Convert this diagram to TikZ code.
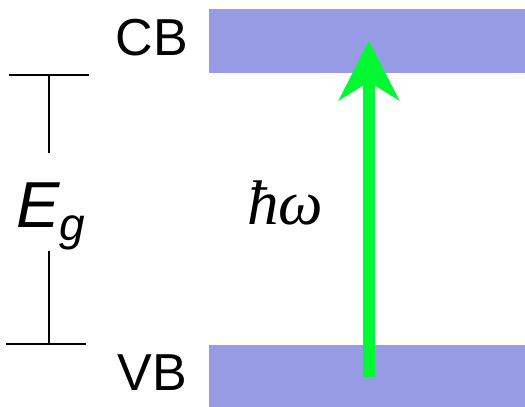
\documentclass[tikz,border=0pt]{standalone}
\usepackage{fontspec}
\newfontfamily\arialf{Liberation Sans}
\newfontfamily\timesf{Liberation Serif}
\usetikzlibrary{arrows.meta}
\definecolor{bandblue}{RGB}{151,155,230}
\definecolor{photongreen}{RGB}{0,249,50}
\tikzset{
  band/.style={rectangle, fill=bandblue, draw=none, minimum width=316pt, inner sep=0pt},
  bandlabel/.style={font=\arialf\fontsize{52}{52}\selectfont, inner sep=0pt, anchor=base},
  gapline/.style={line width=2pt, black},
  photon/.style={line width=12pt, photongreen, -{Stealth[length=59pt,width=60pt,inset=18pt]}}
}
\begin{document}
\begin{tikzpicture}[x=1pt,y=-1pt]
\useasboundingbox (0,0) rectangle (525,407);
\node[band, minimum height=64pt] (cb) at (367,41) {};
\node[band, minimum height=62pt] (vb) at (367,376) {};
\node[bandlabel] (cblabel) at (152,55) {CB};
\node[bandlabel] (vblabel) at (152,390) {VB};
\node[inner sep=0pt, anchor=base west] (eg) at (16,227)
  {\arialf\itshape\fontsize{65}{65}\selectfont E\raisebox{-13pt}{\fontsize{46}{46}\selectfont g}};
\node[inner sep=0pt, anchor=base] (hw) at (285,224) {\timesf\itshape\fontsize{63}{63}\selectfont ħω};
\coordinate (t1) at (9,75);
\coordinate (t2) at (89,75);
\coordinate (tm) at (49,75);
\coordinate (tv) at (49,153);
\coordinate (bv) at (49,251);
\coordinate (bm) at (49,344);
\coordinate (b1) at (6,344);
\coordinate (b2) at (86,344);
\draw[gapline] (t1) -- (t2);
\draw[gapline] (tm) -- (tv);
\draw[gapline] (bv) -- (bm);
\draw[gapline] (b1) -- (b2);
\coordinate (arrS) at (369,377);
\coordinate (arrT) at (369,41);
\draw[photon] (arrS) -- (arrT);
\end{tikzpicture}
\end{document}
